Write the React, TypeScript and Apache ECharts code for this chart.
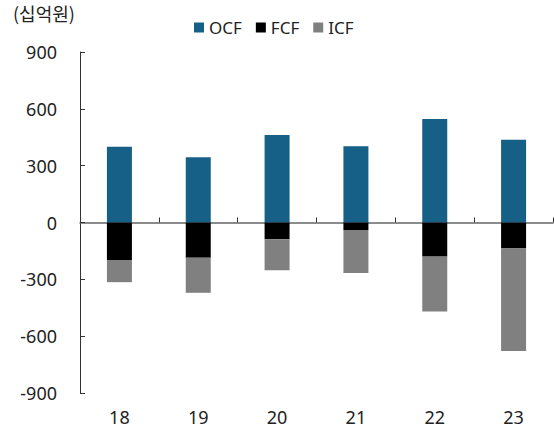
import React, { useEffect, useRef } from "react";
import * as echarts from "echarts";

const categories = ["18", "19", "20", "21", "22", "23"];
const ocf = [400, 345, 462, 403, 546, 437];
const fcf = [-200, -186, -88, -40, -180, -137];
const icf = [-115, -185, -164, -226, -290, -541];
const yTicks = { min: -900, max: 900, interval: 300 };

const FONT = "'Noto Sans', sans-serif";

export default function App() {
  const ref = useRef<HTMLDivElement>(null);
  useEffect(() => {
    document.body.style.margin = "0";
    if (!ref.current) return;
    const chart = echarts.init(ref.current, undefined, { renderer: "svg" });
    chart.setOption({
      animation: false,
      textStyle: { fontFamily: FONT },
      graphic: [
        {
          type: "text",
          left: 13,
          top: 4,
          style: { text: "(십억원)", fontSize: 18, fill: "#222", fontFamily: "'Noto Sans CJK KR', sans-serif" },
        },
      ],
      legend: {
        left: 189,
        top: 14,
        itemWidth: 10,
        itemHeight: 10,
        itemGap: 14,
        icon: "rect",
        textStyle: { fontSize: 17, color: "#222", fontFamily: FONT },
        data: ["OCF", "FCF", "ICF"],
      },
      grid: { left: 80, right: 1, top: 52, bottom: 43, containLabel: false },
      xAxis: [
        {
          type: "category",
          data: categories,
          position: "bottom",
          axisLine: { onZero: true, lineStyle: { color: "#666", width: 1.5 } },
          axisTick: { show: true, inside: true, length: 5, lineStyle: { color: "#333" } },
          axisLabel: { show: false },
        },
        {
          type: "category",
          data: categories,
          position: "bottom",
          axisLine: { show: false, onZero: false },
          axisTick: { show: false },
          axisLabel: { fontSize: 18, color: "#222", margin: 15, fontFamily: FONT },
        },
      ],
      yAxis: {
        type: "value",
        min: yTicks.min,
        max: yTicks.max,
        interval: yTicks.interval,
        axisLine: { show: true, lineStyle: { color: "#333" } },
        axisTick: { show: true, inside: true, length: 5, lineStyle: { color: "#333" } },
        splitLine: { show: false },
        axisLabel: { fontSize: 18, color: "#222", margin: 23, fontFamily: FONT },
      },
      series: [
        {
          name: "OCF",
          type: "bar",
          stack: "pos",
          data: ocf,
          barWidth: 25,
          itemStyle: { color: "#165F86" },
        },
        {
          name: "FCF",
          type: "bar",
          stack: "neg",
          data: fcf,
          barWidth: 25,
          barGap: "-100%",
          itemStyle: { color: "#000000" },
        },
        {
          name: "ICF",
          type: "bar",
          stack: "neg",
          data: icf,
          barWidth: 25,
          barGap: "-100%",
          itemStyle: { color: "#808080" },
        },
      ],
    });
    return () => chart.dispose();
  }, []);
  return <div ref={ref} style={{ width: 554, height: 436 }} />;
}
